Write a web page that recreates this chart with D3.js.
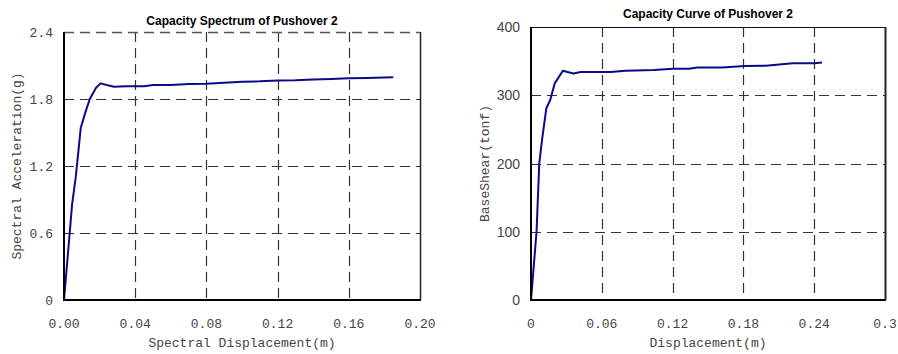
<!DOCTYPE html>
<html>
<head>
<meta charset="utf-8">
<script src="https://cdn.jsdelivr.net/npm/d3@7"></script>
<style>
  body { margin: 0; background: #fff; }
  svg { display: block; }
  .tick-mono { font-family: "Liberation Mono", "DejaVu Sans Mono", monospace; font-size: 13px; fill: #444; }
  .tick-sans { font-family: "Liberation Sans", Arial, sans-serif; font-size: 14px; fill: #444; }
  .axis-title { font-family: "Liberation Mono", "DejaVu Sans Mono", monospace; font-size: 13px; fill: #444; }
  .chart-title { font-family: "Liberation Sans", Arial, sans-serif; font-size: 12px; font-weight: bold; fill: #000; }
</style>
</head>
<body>
<script>
// capacity spectrum (left)
var specDisp = [0, 0.0032, 0.0045, 0.0066, 0.0094, 0.012, 0.0145, 0.018, 0.0206, 0.024, 0.028, 0.035,
                0.045, 0.05, 0.06, 0.065, 0.07, 0.08, 0.09, 0.10, 0.11, 0.12, 0.13, 0.14, 0.15, 0.16, 0.17, 0.185];
var specAcc = [0, 0.60, 0.85, 1.10, 1.54, 1.68, 1.80, 1.90, 1.94, 1.925, 1.91, 1.915,
               1.915, 1.925, 1.925, 1.93, 1.935, 1.937, 1.945, 1.955, 1.958, 1.965, 1.968, 1.975, 1.98, 1.985, 1.988, 1.995];
var specXTicks = [0, 0.04, 0.08, 0.12, 0.16, 0.20];
var specYTicks = [0, 0.6, 1.2, 1.8, 2.4];

// capacity curve (right)
var curveDisp = [0, 0.0047, 0.007, 0.0093, 0.013, 0.0163, 0.020, 0.027, 0.031, 0.036, 0.042, 0.06,
                 0.0676, 0.08, 0.1045, 0.12, 0.134, 0.141, 0.162, 0.181, 0.199, 0.2217, 0.240, 0.2466];
var curveShear = [0, 100, 200, 234, 281, 293, 317, 336, 334, 332, 334, 334,
                  334, 336, 337, 339, 339, 340.5, 340.5, 343, 343.3, 346.8, 347, 348];
var curveXTicks = [0, 0.06, 0.12, 0.18, 0.24, 0.3];
var curveYTicks = [0, 100, 200, 300, 400];

var svg = d3.select('body').append('svg')
    .attr('width', 898)
    .attr('height', 354);

function drawChart(opts) {
  var g = svg.append('g');
  var x = d3.scaleLinear().domain(opts.xDomain).range([opts.left, opts.right]);
  var y = d3.scaleLinear().domain(opts.yDomain).range([opts.bottom, opts.top]);

  // grid
  g.selectAll('line.vgrid')
    .data(opts.xTicks.slice(1, -1))
    .enter().append('line')
    .attr('class', 'vgrid')
    .attr('x1', function(d) { return Math.round(x(d)) + 0.5; })
    .attr('x2', function(d) { return Math.round(x(d)) + 0.5; })
    .attr('y1', opts.top)
    .attr('y2', opts.bottom)
    .attr('stroke', '#333')
    .attr('stroke-width', 1.2)
    .attr('stroke-dasharray', '10,6');

  g.selectAll('line.hgrid')
    .data(opts.yTicks.slice(1, -1))
    .enter().append('line')
    .attr('class', 'hgrid')
    .attr('x1', opts.left)
    .attr('x2', opts.right)
    .attr('y1', function(d) { return Math.round(y(d)) + 0.5; })
    .attr('y2', function(d) { return Math.round(y(d)) + 0.5; })
    .attr('stroke', '#333')
    .attr('stroke-width', 1.2)
    .attr('stroke-dasharray', '10,6');

  // top + right frame
  g.append('line')
    .attr('x1', opts.left).attr('x2', opts.right)
    .attr('y1', opts.top + 0.5).attr('y2', opts.top + 0.5)
    .attr('stroke', opts.topDashed ? '#555' : '#111')
    .attr('stroke-width', opts.topDashed ? 1.5 : 1.2)
    .attr('stroke-dasharray', opts.topDashed ? '10,6' : null);
  g.append('line')
    .attr('x1', opts.right + 0.5).attr('x2', opts.right + 0.5)
    .attr('y1', opts.top).attr('y2', opts.bottom)
    .attr('stroke', '#222')
    .attr('stroke-width', opts.rightWidth);

  // data line
  var line = d3.line()
    .x(function(d) { return x(d[0]); })
    .y(function(d) { return y(d[1]); });
  g.append('path')
    .datum(d3.zip(opts.xs, opts.ys))
    .attr('d', line)
    .attr('fill', 'none')
    .attr('stroke', '#0a0a8c')
    .attr('stroke-width', 2)
    .attr('stroke-linejoin', 'round');

  // left + bottom axis lines
  g.append('line')
    .attr('x1', opts.left).attr('x2', opts.left)
    .attr('y1', opts.top).attr('y2', opts.bottom + 1)
    .attr('stroke', '#000').attr('stroke-width', 2);
  g.append('line')
    .attr('x1', opts.left - 1).attr('x2', opts.right + 1)
    .attr('y1', opts.bottom).attr('y2', opts.bottom)
    .attr('stroke', '#000').attr('stroke-width', 2);

  // tick labels
  g.selectAll('text.xtick')
    .data(opts.xTicks)
    .enter().append('text')
    .attr('class', 'tick-mono')
    .attr('x', function(d) { return x(d); })
    .attr('y', opts.bottom + 28)
    .attr('text-anchor', 'middle')
    .text(opts.xFormat);

  g.selectAll('text.ytick')
    .data(opts.yTicks)
    .enter().append('text')
    .attr('class', opts.yClass)
    .attr('x', opts.left - 11)
    .attr('y', function(d) { return y(d) + 5; })
    .attr('text-anchor', 'end')
    .text(opts.yFormat);

  // titles
  g.append('text')
    .attr('class', 'chart-title')
    .attr('x', (opts.left + opts.right) / 2)
    .attr('y', opts.titleY)
    .attr('text-anchor', 'middle')
    .text(opts.title);

  g.append('text')
    .attr('class', 'axis-title')
    .attr('x', (opts.left + opts.right) / 2)
    .attr('y', opts.bottom + 47)
    .attr('text-anchor', 'middle')
    .text(opts.xTitle);

  g.append('text')
    .attr('class', 'axis-title')
    .attr('transform', 'translate(' + opts.yTitleX + ',' + (opts.top + opts.bottom) / 2 + ') rotate(-90)')
    .attr('text-anchor', 'middle')
    .text(opts.yTitle);
}

drawChart({
  left: 64, right: 420, top: 32, bottom: 300,
  xDomain: [0, 0.2], yDomain: [0, 2.4],
  xTicks: specXTicks, yTicks: specYTicks,
  xs: specDisp, ys: specAcc,
  xFormat: d3.format('.2f'),
  yFormat: function(d) { return d === 0 ? '0' : d3.format('.1f')(d); },
  yClass: 'tick-mono',
  topDashed: true, rightWidth: 1.5,
  title: 'Capacity Spectrum of Pushover 2', titleY: 25,
  xTitle: 'Spectral Displacement(m)',
  yTitle: 'Spectral Acceleration(g)', yTitleX: 21
});

drawChart({
  left: 531, right: 885, top: 27, bottom: 300,
  xDomain: [0, 0.3], yDomain: [0, 400],
  xTicks: curveXTicks, yTicks: curveYTicks,
  xs: curveDisp, ys: curveShear,
  xFormat: function(d) { return d === 0 ? '0' : String(+d.toFixed(2)); },
  yFormat: d3.format('d'),
  yClass: 'tick-sans',
  topDashed: false, rightWidth: 2,
  title: 'Capacity Curve of Pushover 2', titleY: 18,
  xTitle: 'Displacement(m)',
  yTitle: 'BaseShear(tonf)', yTitleX: 489
});
</script>
</body>
</html>
